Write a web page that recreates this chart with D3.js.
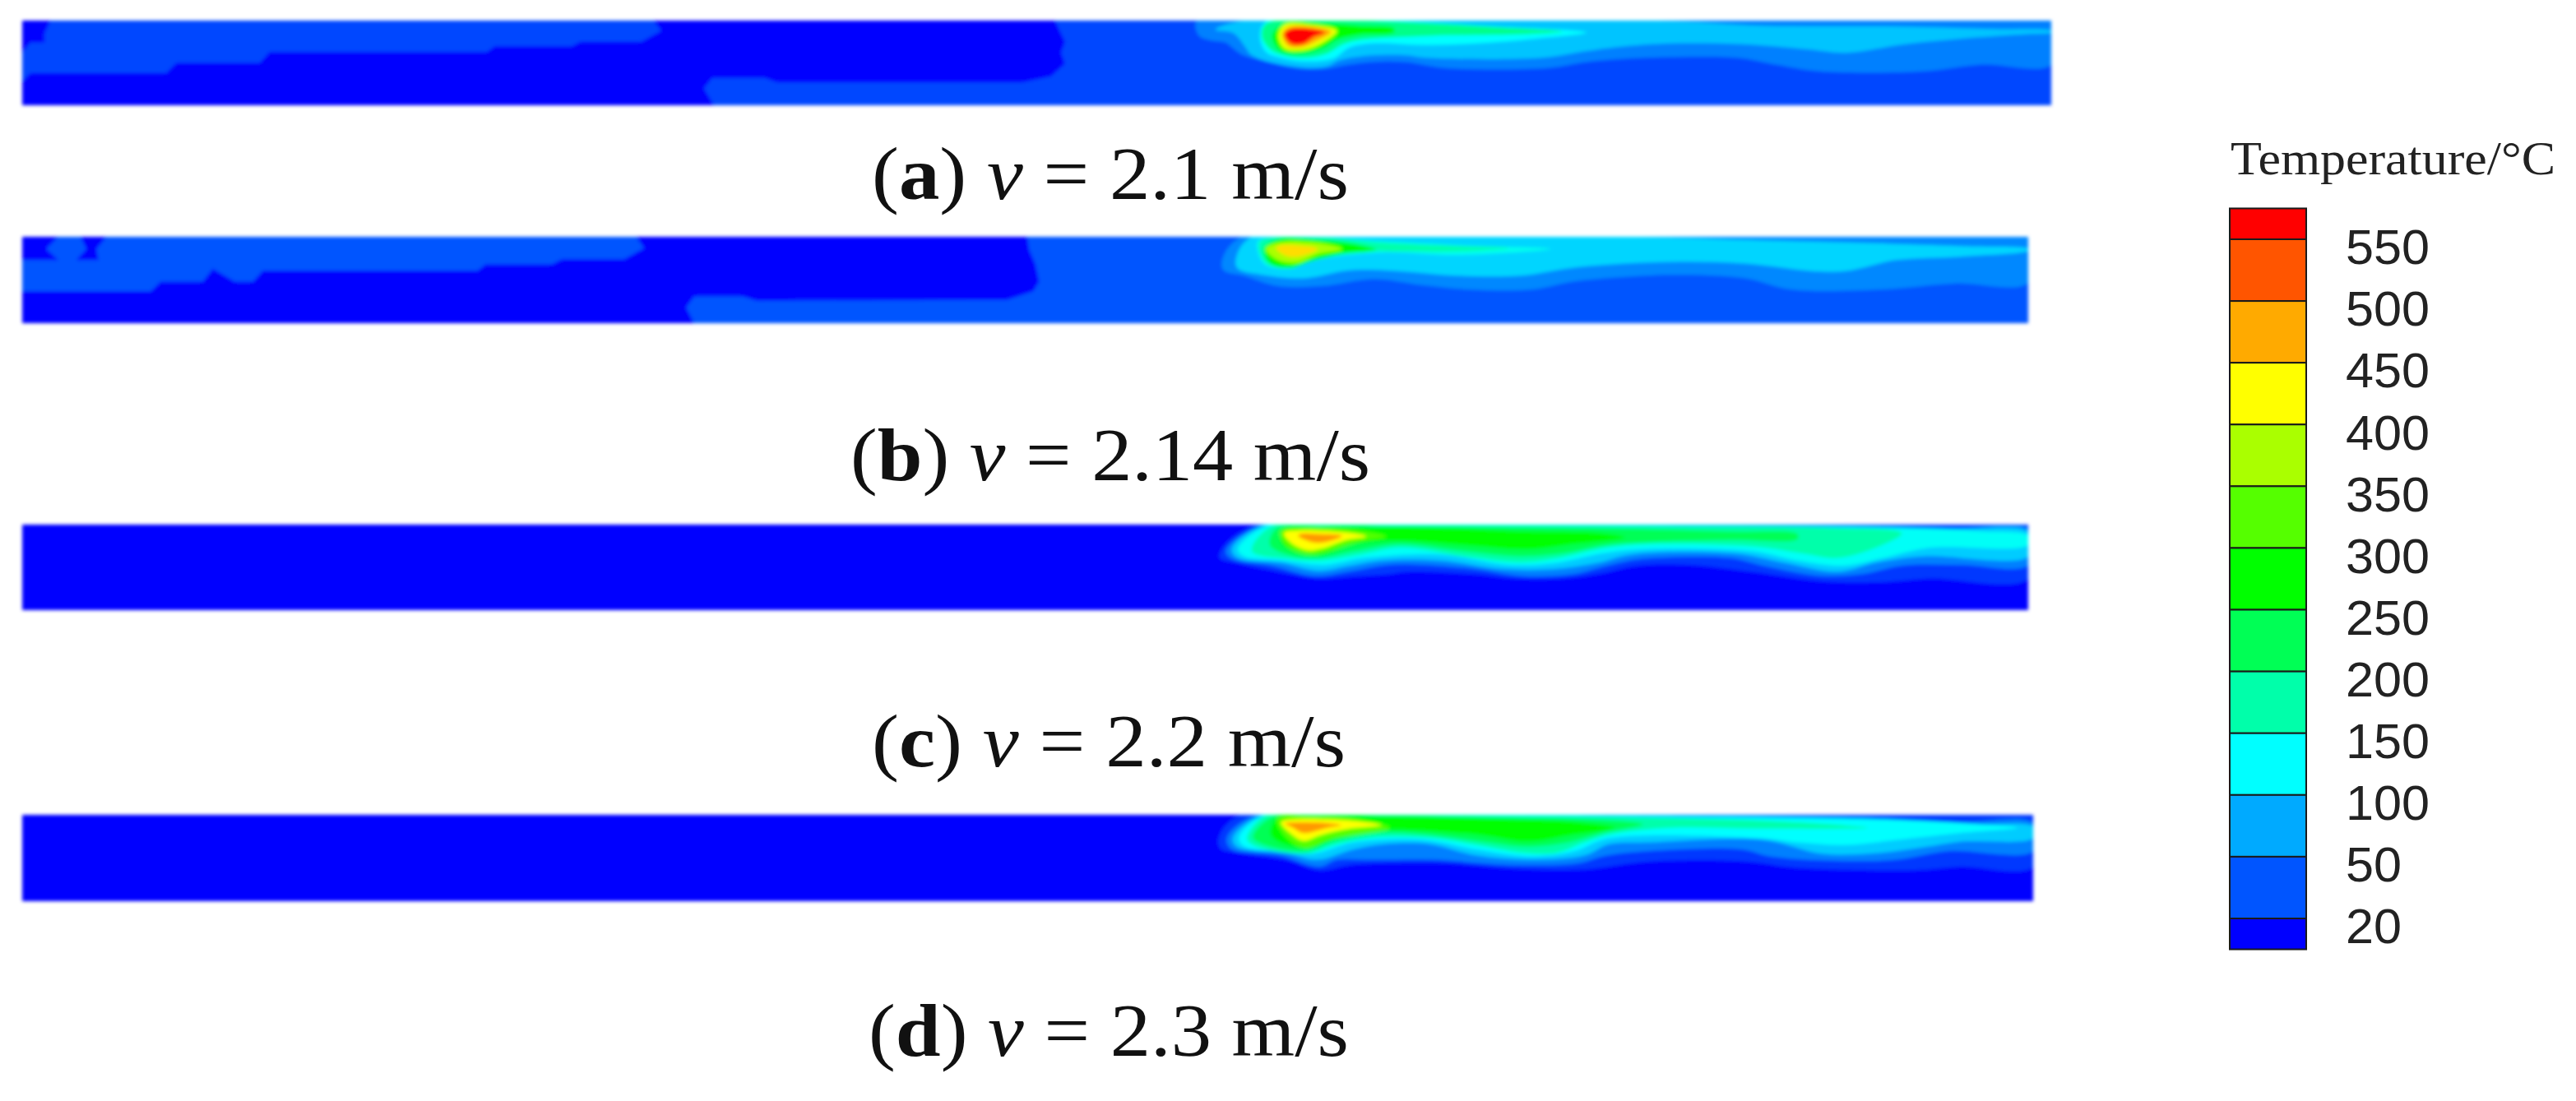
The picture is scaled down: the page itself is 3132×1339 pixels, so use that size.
<!DOCTYPE html>
<html><head><meta charset="utf-8">
<script src="https://cdn.jsdelivr.net/npm/d3@7"></script>
<style>html,body{margin:0;padding:0;background:#fff}svg{display:block}</style>
</head><body><svg id="chart" width="3132" height="1339"></svg>
<script>
// ---- Data: channel position (0-1000 along the duct), depth (0-100 across), temperature level °C
const legendTicks = [550,500,450,400,350,300,250,200,150,100,50,20];
const legendColours = ["#ff0000","#ff5500","#ffaa00","#ffff00","#aaff00","#55ff00","#00ff00","#00ff55","#00ffaa","#00ffff","#00aaff","#0055ff","#0000ff"];
const tempKnots = [20,50,100,150,200,250,300,350,400,450,500,550,600];
const captionLetters = ["a","b","c","d"];
const captionSpeeds = ["2.1","2.14","2.2","2.3"];

// blocky low-temperature regions upstream of the plume
const zonesA = [
 [45,[[14,0],[11,15],[11,26],[4,26],[0,38],[0,72],[4,62],[71,62],[76,50],[117,50],[122,37],[229,37],[233,30],[271,30],[275,25],[305,25],[315,12],[311,0]]],
 [45,[[509,0],[514,25],[512,38],[514,51],[507,66],[493,73],[372,73],[366,68],[340,68],[336,80],[341,100],[1000,100],[1000,0]]]
];
const zonesB = [
 [50,[[0,27],[18,27],[12,14],[18,0],[29,0],[32,14],[27,27],[38,27],[37,14],[42,0],[306,0],[310,13],[300,26],[269,26],[264,32],[231,32],[227,39],[120,39],[115,52],[106,52],[95,37],[90,52],[69,52],[64,63],[0,63]]],
 [50,[[501,0],[502,15],[505,31],[507,52],[504,63],[491,73],[366,74],[359,69],[335,69],[331,82],[335,100],[1000,100],[1000,0]]]
];
const zonesC = [];
const zonesD = [];

// nested plume isotherms
const contoursA = [
 [75,[[579,0],[580,18],[585,23],[593,26],[596,31],[601,40],[611,47],[630,57],[642,57],[654,52],[665,49],[682,49],[701,56],[752,56],[771,49],[800,44],[845,44],[864,52],[886,60],[937,60],[966,52],[1000,52],[1000,0]]],
 [115,[[602,0],[588,11],[597,15],[603,32],[605,39],[612,47],[631,55],[643,54],[649,47],[661,42],[682,41],[692,44],[749,44],[771,36],[787,31],[813,27],[848,28],[880,34],[899,38],[928,28],[963,20],[988,16],[1000,14],[1000,12],[972,10],[925,7],[857,6],[806,0]]],
 [150,[[610,19],[613,37],[620,44],[631,48],[646,45],[654,32],[665,27],[694,29],[724,26],[752,20],[771,14],[727,7],[673,0],[613,1]]],
 [220,[[611,19],[615,34],[620,40],[631,44],[643,39],[651,28],[659,23],[694,18],[740,16],[759,13],[727,8],[689,3],[657,0],[613,4]]],
 [300,[[616,18],[620,36],[631,39],[642,32],[648,23],[659,17],[676,14],[676,9],[660,6],[640,3],[622,3]]],
 [440,[[619,18],[622,33],[631,35],[639,29],[648,12],[635,5],[622,5]]],
 [500,[[621,16],[624,30],[631,31],[638,24],[645,13],[634,7],[624,8]]],
 [600,[[622,16],[625,27],[631,28],[637,19],[642,14],[632,9],[625,10]]]
];
const contoursB = [
 [80,[[608,0],[598,29],[599,39],[609,45],[626,57],[648,57],[674,49],[698,56],[721,61],[753,61],[773,52],[796,47],[822,44],[859,48],[882,61],[927,61],[963,54],[1000,53],[1000,0]]],
 [125,[[613,0],[605,26],[606,37],[618,44],[639,48],[661,39],[681,39],[715,45],[747,45],[776,35],[822,29],[859,31],[894,40],[911,39],[934,27],[966,23],[1000,16],[1000,14],[970,11],[931,8],[865,4],[805,0]]],
 [160,[[616,5],[619,31],[632,37],[644,27],[678,18],[715,21],[762,14],[718,10],[678,5],[649,1],[626,2]]],
 [200,[[617,6],[620,30],[632,36],[642,27],[667,17],[687,17],[713,17],[741,13],[716,11],[678,7],[646,1]]],
 [300,[[619,13],[622,31],[632,36],[643,28],[658,20],[675,15],[661,7],[644,3],[626,3]]],
 [400,[[620,14],[626,27],[635,30],[646,20],[658,14],[648,8],[627,7]]],
 [470,[[625,13],[630,22],[636,23],[646,14],[636,10],[627,10]]]
];
const contoursC = [
 [40,[[616,0],[598,29],[597,39],[606,45],[626,55],[646,63],[661,61],[681,58],[690,55],[724,58],[744,63],[767,63],[785,58],[805,48],[831,47],[862,55],[897,66],[928,67],[951,63],[1000,63],[1000,0]]],
 [75,[[619,0],[600,31],[603,40],[623,48],[644,60],[661,55],[681,47],[698,47],[724,52],[747,60],[773,58],[790,48],[808,40],[851,39],[868,48],[897,60],[917,58],[937,48],[966,47],[1000,47],[1000,5],[980,5],[908,2],[851,0]]],
 [120,[[620,0],[603,29],[606,39],[628,45],[646,54],[662,48],[678,42],[707,42],[738,52],[764,52],[785,45],[802,35],[854,34],[877,44],[905,55],[925,44],[948,37],[1000,37],[1000,9],[960,5],[908,2],[810,0]]],
 [155,[[622,0],[606,29],[609,37],[629,42],[649,47],[669,39],[707,35],[741,47],[764,45],[787,34],[805,29],[862,31],[885,42],[908,48],[928,39],[951,27],[1000,24],[1000,13],[977,8],[937,4],[851,2],[736,0]]],
 [200,[[623,2],[613,31],[631,40],[646,42],[667,35],[687,27],[718,37],[747,44],[764,40],[790,27],[810,23],[865,26],[888,34],[905,39],[925,26],[937,10],[902,4],[822,2],[684,1]]],
 [250,[[625,5],[622,24],[632,36],[646,39],[664,31],[687,23],[718,31],[747,37],[767,34],[793,23],[851,18],[885,17],[885,11],[851,8],[799,5],[684,2],[649,2]]],
 [300,[[628,6],[628,23],[638,34],[648,35],[662,24],[684,19],[718,24],[750,29],[770,24],[799,15],[787,10],[750,8],[718,5],[678,3],[649,3]]],
 [350,[[627,8],[630,24],[641,35],[651,31],[668,19],[680,14],[665,7],[640,4]]],
 [450,[[629,10],[633,22],[641,30],[648,28],[660,18],[670,14],[658,9],[636,7]]],
 [510,[[636,13],[644,21],[652,19],[658,13],[646,11],[637,11]]]
];
const contoursD = [
 [40,[[606,0],[595,27],[596,39],[605,44],[628,52],[645,64],[660,58],[677,56],[708,56],[740,62],[777,63],[809,54],[858,54],[881,61],[941,64],[964,60],[1000,60],[1000,0]]],
 [75,[[614,0],[599,27],[601,39],[625,47],[645,60],[654,52],[671,52],[703,52],[740,58],[774,56],[786,48],[809,42],[855,40],[869,48],[901,53],[932,52],[958,42],[1000,42],[1000,10],[964,8],[878,2],[792,0]]],
 [120,[[617,0],[602,27],[604,37],[628,44],[644,52],[662,40],[677,34],[700,34],[723,47],[749,52],[777,47],[789,34],[809,32],[866,29],[895,45],[924,44],[947,37],[964,31],[1000,27],[1000,14],[972,11],[929,5],[849,2],[792,1]]],
 [150,[[618,0],[605,27],[608,37],[628,42],[642,45],[662,32],[697,29],[723,40],[751,48],[772,42],[789,27],[863,27],[883,32],[906,35],[932,29],[964,21],[992,15],[972,11],[926,6],[792,1],[734,0]]],
 [200,[[619,0],[609,27],[612,35],[638,45],[654,34],[674,26],[700,27],[723,35],[746,44],[763,44],[777,32],[789,23],[820,15],[863,16],[918,15],[878,8],[806,3],[734,1],[677,0]]],
 [250,[[622,2],[612,26],[617,34],[638,42],[652,31],[677,21],[703,24],[728,32],[749,37],[769,32],[786,21],[806,11],[786,6],[734,3],[677,1]]],
 [300,[[624,3],[621,24],[638,39],[654,27],[677,18],[723,23],[749,31],[769,24],[792,15],[771,8],[734,5],[683,2],[642,2]]],
 [350,[[624,5],[629,27],[638,38],[650,28],[680,15],[662,5],[642,3]]],
 [450,[[626,9],[631,22],[637,30],[646,23],[660,16],[676,12],[655,6],[629,6]]],
 [510,[[628,10],[632,15],[637,21],[649,15],[656,12],[646,9],[630,9]]]
];
const panelZones = [zonesA, zonesB, zonesC, zonesD];
const panelContours = [contoursA, contoursB, contoursC, contoursD];
const panelBase = [20,20,20,20];

// ---- Layout
const panelBoxes = [
 {x0:27,x1:2494,y0:25,y1:128},
 {x0:27,x1:2466,y0:288,y1:393},
 {x0:27,x1:2466,y0:638,y1:742},
 {x0:27,x1:2472,y0:991,y1:1096}
];
const captionPos = [{x:1060,y:242,w:580},{x:1034,y:584,w:632},{x:1060,y:932,w:576},{x:1056,y:1284,w:584}];

const svg = d3.select("#chart");
const defs = svg.append("defs");
defs.append("filter").attr("id","soft").attr("filterUnits","userSpaceOnUse")
  .attr("x",0).attr("y",0).attr("width",3132).attr("height",1339)
  .append("feGaussianBlur").attr("stdDeviation",2.2);

const tempColour = d3.scaleLinear().domain(tempKnots).range(legendColours.slice().reverse()).clamp(true);

panelBoxes.forEach((box,i)=>{
  const x = d3.scaleLinear().domain([0,1000]).range([box.x0,box.x1]);
  const y = d3.scaleLinear().domain([0,100]).range([box.y0,box.y1]);
  const blocky = d3.line().x(d=>x(d[0])).y(d=>y(d[1])).curve(d3.curveLinearClosed);
  const smooth = d3.line().x(d=>x(d[0])).y(d=>y(d[1])).curve(d3.curveCatmullRomClosed.alpha(0.5));
  defs.append("clipPath").attr("id","clip"+i).append("rect")
    .attr("x",x(0)).attr("y",y(0)).attr("width",x(1000)-x(0)).attr("height",y(100)-y(0));
  const g = svg.append("g").attr("filter","url(#soft)").append("g").attr("clip-path","url(#clip"+i+")");
  g.append("rect").attr("x",x(0)).attr("y",y(0)).attr("width",x(1000)-x(0)).attr("height",y(100)-y(0))
    .attr("fill",tempColour(panelBase[i]));
  g.selectAll("path.zone").data(panelZones[i]).join("path").attr("class","zone")
    .attr("d",d=>blocky(d[1])).attr("fill",d=>tempColour(d[0]));
  g.selectAll("path.iso").data(panelContours[i]).join("path").attr("class","iso")
    .attr("d",d=>smooth(d[1])).attr("fill",d=>tempColour(d[0]));
  const t = svg.append("text").attr("x",captionPos[i].x).attr("y",captionPos[i].y)
    .attr("font-family","'Liberation Serif',serif")
    .attr("font-size",92).attr("fill","#111")
    .attr("textLength",captionPos[i].w).attr("lengthAdjust","spacingAndGlyphs");
  t.append("tspan").text("(");
  t.append("tspan").attr("font-weight","bold").text(captionLetters[i]);
  t.append("tspan").text(") ");
  t.append("tspan").attr("font-style","italic").text("v");
  t.append("tspan").text(" = "+captionSpeeds[i]+" m/s");
});

// ---- Legend
const ly = d3.scalePoint().domain(legendTicks).range([291,1117]);
const step = ly.step();
const edges = [ly(550)-step/2].concat(legendTicks.map(d=>ly(d)),[ly(20)+step/2]);
const legend = svg.append("g");
const bx0 = 2711, bx1 = 2804;
legend.selectAll("rect").data(legendColours).join("rect")
  .attr("x",bx0).attr("width",bx1-bx0)
  .attr("y",(d,i)=>edges[i]).attr("height",(d,i)=>edges[i+1]-edges[i])
  .attr("fill",d=>d).attr("stroke","#1a1a1a").attr("stroke-width",2);
legend.selectAll("text").data(legendTicks).join("text")
  .attr("x",2852).attr("y",d=>ly(d)+9).attr("dy","0.36em")
  .attr("font-family","'Liberation Sans',Arial,sans-serif").attr("font-size",59)
  .attr("textLength",d=>d<100?68:102).attr("lengthAdjust","spacingAndGlyphs")
  .attr("fill","#222").text(d=>d);
svg.append("text").attr("x",2712).attr("y",212)
  .attr("font-family","'Liberation Serif',serif").attr("font-size",58)
  .attr("textLength",395).attr("lengthAdjust","spacingAndGlyphs")
  .attr("fill","#222").text("Temperature/°C");
</script></body></html>
